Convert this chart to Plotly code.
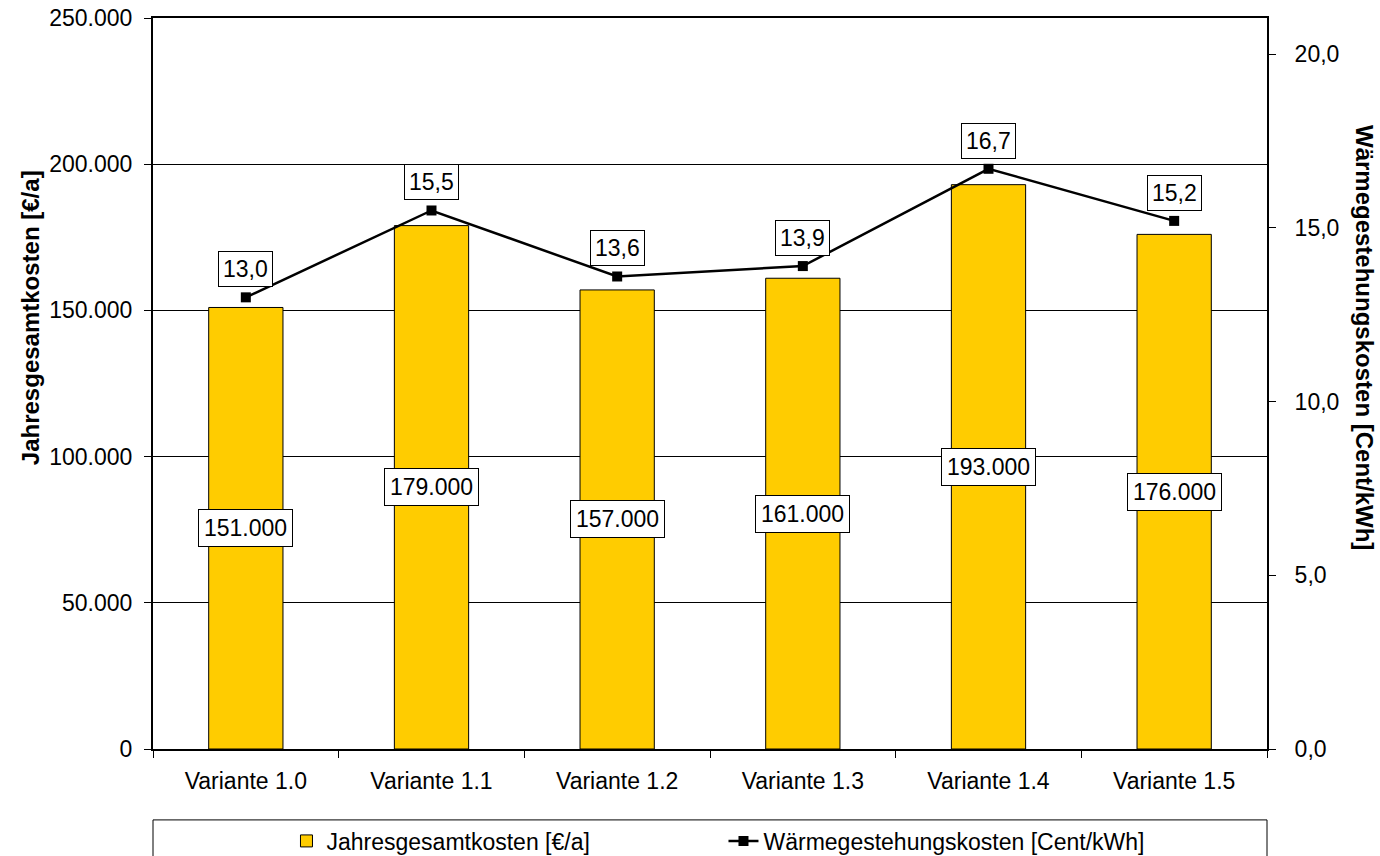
import plotly.graph_objects as go

categories = ["Variante 1.0", "Variante 1.1", "Variante 1.2", "Variante 1.3", "Variante 1.4", "Variante 1.5"]
jahreskosten = [151000, 179000, 157000, 161000, 193000, 176000]
waermekosten = [13.0, 15.5, 13.6, 13.9, 16.7, 15.2]
left_ticks = [0, 50000, 100000, 150000, 200000, 250000]
right_ticks = [0, 5, 10, 15, 20]

FONT = "Liberation Sans, Arial, sans-serif"
BAR_COLOR = "#FFCC00"

def fmt_int(v):
    return f"{v:,.0f}".replace(",", ".")

def fmt_dec(v):
    return f"{v:.1f}".replace(".", ",")

fig = go.Figure()
fig.add_trace(go.Bar(
    x=categories, y=jahreskosten, name="Jahresgesamtkosten [€/a]",
    marker=dict(color=BAR_COLOR, line=dict(color="black", width=1)),
    width=0.4, yaxis="y",
))
fig.add_trace(go.Scatter(
    x=categories, y=waermekosten, name="Wärmegestehungskosten [Cent/kWh]",
    mode="lines+markers", line=dict(color="black", width=2.5),
    marker=dict(symbol="square", size=10, color="black"),
    yaxis="y2",
))

annotations = []
for c, v in zip(categories, jahreskosten):
    annotations.append(dict(
        x=c, y=v / 2, xref="x", yref="y", text=fmt_int(v), showarrow=False,
        font=dict(family=FONT, size=23, color="black"),
        bgcolor="white", bordercolor="black", borderwidth=1, borderpad=5,
    ))
for c, v in zip(categories, waermekosten):
    annotations.append(dict(
        x=c, y=v, xref="x", yref="y2", text=fmt_dec(v), showarrow=False,
        yshift=28,
        font=dict(family=FONT, size=23, color="black"),
        bgcolor="white", bordercolor="black", borderwidth=1, borderpad=4,
    ))
annotations.append(dict(
    x=-0.110, y=0.59, xref="paper", yref="paper", text="<b>Jahresgesamtkosten [€/a]</b>",
    xanchor="center", yanchor="middle",
    showarrow=False, textangle=-90, font=dict(family=FONT, size=24, color="black"),
))
annotations.append(dict(
    x=1.088, y=0.5636, xref="paper", yref="paper", text="<b>Wärmegestehungskosten [Cent/kWh]</b>",
    xanchor="center", yanchor="middle",
    showarrow=False, textangle=90, font=dict(family=FONT, size=24, color="black"),
))

fig.update_layout(
    width=1380, height=856,
    margin=dict(l=153, r=113, t=18, b=107, autoexpand=False),
    paper_bgcolor="white", plot_bgcolor="white",
    separators=",.",
    font=dict(family=FONT, size=23, color="black"),
    showlegend=True,
    legend=dict(
        orientation="h", x=0.5121, xanchor="center", y=-0.0964, yanchor="top",
        font=dict(family=FONT, size=23, color="black"),
        bgcolor="rgba(0,0,0,0)", borderwidth=0,
        entrywidth=392, entrywidthmode="pixels",
    ),
    xaxis=dict(
        type="category", showgrid=False, showline=True, linecolor="black", linewidth=2,
        mirror=True, ticks="outside", tickson="boundaries", ticklen=7, tickcolor="black",
        tickwidth=1, tickfont=dict(family=FONT, size=23), range=[-0.5, 5.5],
        ticklabelstandoff=10, automargin=False,
    ),
    yaxis=dict(
        range=[0, 250000], tickvals=left_ticks, ticktext=[fmt_int(v) for v in left_ticks],
        showgrid=True, gridcolor="black", gridwidth=1,
        showline=True, linecolor="black", linewidth=2,
        ticks="outside", ticklen=7, tickcolor="black", tickwidth=1,
        tickfont=dict(family=FONT, size=23), zeroline=False,
        ticklabelstandoff=7, automargin=False,
    ),
    yaxis2=dict(
        range=[0, 21.04], overlaying="y", side="right", anchor="x",
        tickvals=right_ticks, ticktext=[fmt_dec(v) for v in right_ticks],
        showgrid=False, showline=True, linecolor="black", linewidth=2,
        ticks="outside", ticklen=7, tickcolor="black", tickwidth=1,
        tickfont=dict(family=FONT, size=23), zeroline=False,
        ticklabelstandoff=14, automargin=False,
    ),
    yaxis3=dict(
        range=[0, 21.04], overlaying="y", side="right", anchor="x",
        tickvals=right_ticks, showticklabels=False,
        showgrid=False, showline=False, zeroline=False,
        ticks="inside", ticklen=7, tickcolor="black", tickwidth=1, automargin=False,
    ),
    annotations=annotations,
    shapes=[dict(
        type="rect", xref="paper", yref="paper", x0=0, x1=1.0, y0=-0.097, y1=-0.2,
        line=dict(color="black", width=1), fillcolor="rgba(0,0,0,0)",
    )],
)

fig.write_html("out.html")
